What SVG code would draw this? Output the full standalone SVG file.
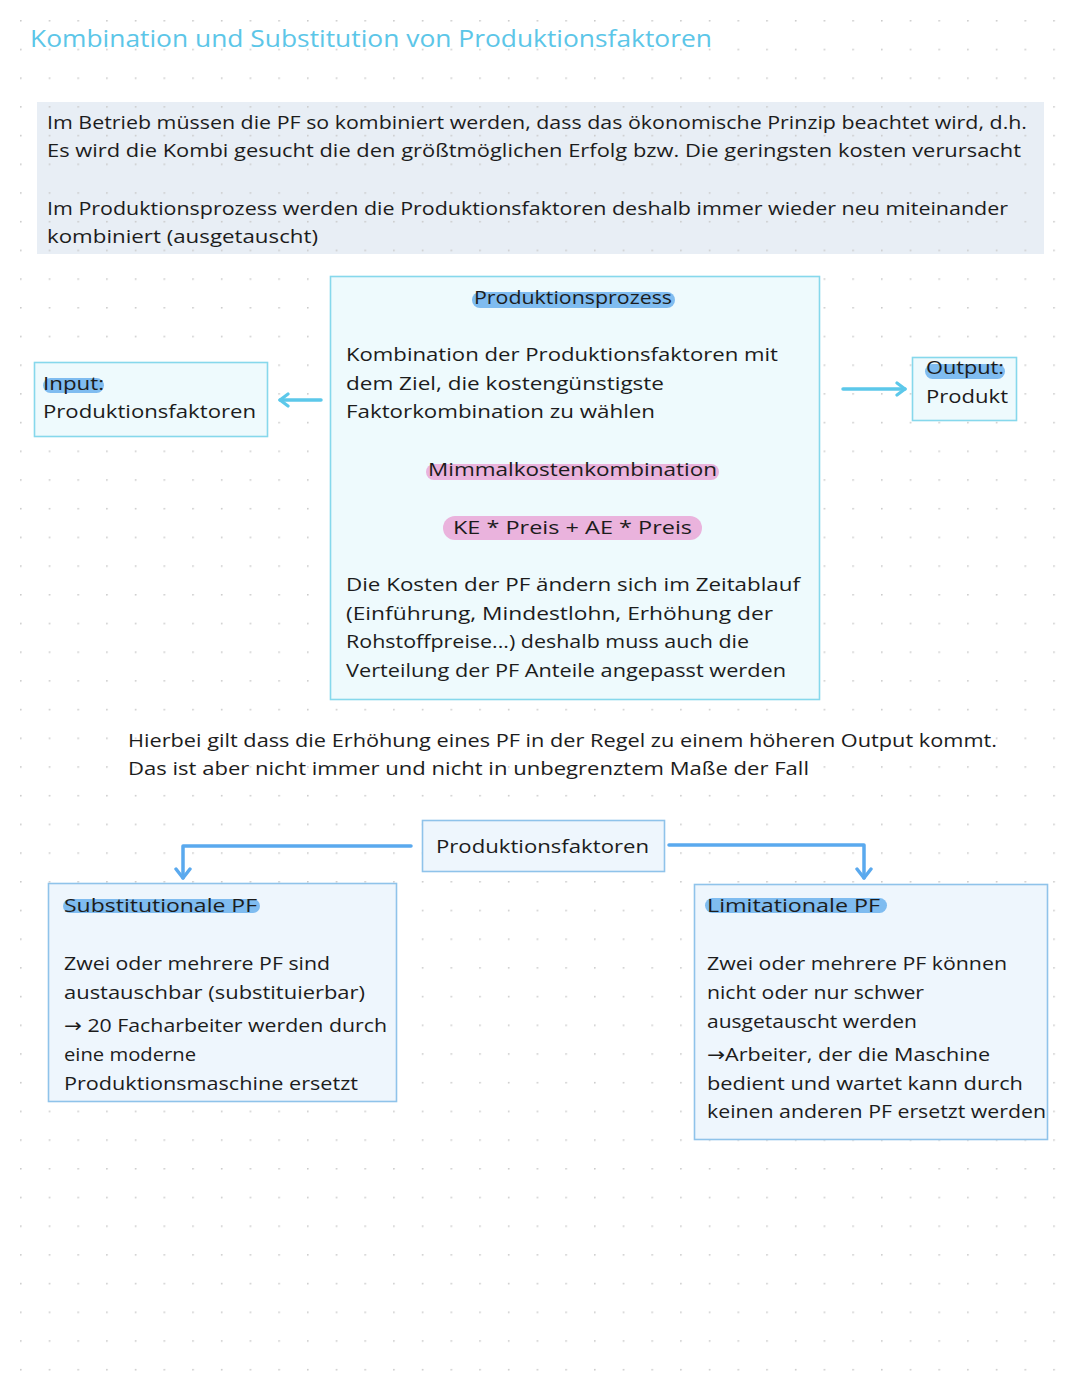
<svg xmlns="http://www.w3.org/2000/svg" width="1080" height="1397" viewBox="0 0 1080 1397">
<defs>
<pattern id="dots" x="20" y="20" width="28.7" height="28.7" patternUnits="userSpaceOnUse">
<circle cx="0.8" cy="0.8" r="0.9" fill="#c9c9c9"/>
</pattern>
<marker id="chevC" viewBox="0 0 16 16" refX="13" refY="8" markerWidth="16" markerHeight="16" markerUnits="userSpaceOnUse" orient="auto">
<path d="M5,2 L13,8 L5,14" fill="none" stroke="#5cc8ea" stroke-width="3.2" stroke-linecap="round" stroke-linejoin="round"/>
</marker>
<marker id="chevB" viewBox="0 0 18 18" refX="14" refY="9" markerWidth="18" markerHeight="18" markerUnits="userSpaceOnUse" orient="auto">
<path d="M5,2 L14,9 L5,16" fill="none" stroke="#5aa9ee" stroke-width="3.4" stroke-linecap="round" stroke-linejoin="round"/>
</marker>
</defs>
<style>
.t{font-family:"Open Sans","Liberation Sans",sans-serif;font-size:19px;fill:#1c1c1c}
.ar{font-family:"DejaVu Sans",sans-serif}
.title{font-family:"Open Sans","Liberation Sans",sans-serif;font-size:23px;fill:#5cc6e8}
.boxC{fill:#eefafd;stroke:#86d8ec;stroke-width:1.6}
.boxB{fill:#eef6fd;stroke:#8fc3ea;stroke-width:1.6}
.hlB{fill:#7fbcf0}
.hlP{fill:#eab3dd}
.conC{fill:none;stroke:#5cc8ea;stroke-width:3.5;stroke-linecap:round}
.conB{fill:none;stroke:#5aa9ee;stroke-width:3.5;stroke-linecap:round;stroke-linejoin:round}
</style>
<rect width="1080" height="1397" fill="#ffffff"/>
<rect x="37" y="102" width="1007" height="152" fill="#e8eef5"/>
<rect width="1080" height="1397" fill="url(#dots)"/>

<text class="title" x="30" y="47" textLength="682" lengthAdjust="spacingAndGlyphs">Kombination und Substitution von Produktionsfaktoren</text>

<g id="intro">
<text class="t" x="47" y="129" textLength="980" lengthAdjust="spacingAndGlyphs">Im Betrieb müssen die PF so kombiniert werden, dass das ökonomische Prinzip beachtet wird, d.h.</text>
<text class="t" x="47" y="157" textLength="974" lengthAdjust="spacingAndGlyphs">Es wird die Kombi gesucht die den größtmöglichen Erfolg bzw. Die geringsten kosten verursacht</text>
<text class="t" x="47" y="215" textLength="961" lengthAdjust="spacingAndGlyphs">Im Produktionsprozess werden die Produktionsfaktoren deshalb immer wieder neu miteinander</text>
<text class="t" x="47" y="243" textLength="271" lengthAdjust="spacingAndGlyphs">kombiniert (ausgetauscht)</text>
</g>

<g id="connectors">
<path class="conC" d="M321,400 L280,400" marker-end="url(#chevC)"/>
<path class="conC" d="M843,389 L905,389" marker-end="url(#chevC)"/>
<path class="conB" d="M411,846 L183,846 L183,878" marker-end="url(#chevB)"/>
<path class="conB" d="M669,845 L864,845 L864,878" marker-end="url(#chevB)"/>
</g>

<g id="prozess">
<rect class="boxC" x="330.5" y="276.5" width="489" height="423"/>
<rect class="hlB" x="472" y="292" width="203" height="16" rx="8"/>
<text class="t" x="474" y="304" textLength="198" lengthAdjust="spacingAndGlyphs">Produktionsprozess</text>
<text class="t" x="346" y="361" textLength="432" lengthAdjust="spacingAndGlyphs">Kombination der Produktionsfaktoren mit</text>
<text class="t" x="346" y="390" textLength="318" lengthAdjust="spacingAndGlyphs">dem Ziel, die kostengünstigste</text>
<text class="t" x="346" y="418" textLength="309" lengthAdjust="spacingAndGlyphs">Faktorkombination zu wählen</text>
<rect class="hlP" x="426" y="464" width="293" height="16" rx="8"/>
<text class="t" x="428" y="476" textLength="289" lengthAdjust="spacingAndGlyphs">Mimmalkostenkombination</text>
<rect class="hlP" x="443" y="516" width="259" height="24" rx="12"/>
<text class="t" x="453" y="534" textLength="239" lengthAdjust="spacingAndGlyphs">KE * Preis + AE * Preis</text>
<text class="t" x="346" y="591" textLength="454" lengthAdjust="spacingAndGlyphs">Die Kosten der PF ändern sich im Zeitablauf</text>
<text class="t" x="346" y="620" textLength="427" lengthAdjust="spacingAndGlyphs">(Einführung, Mindestlohn, Erhöhung der</text>
<text class="t" x="346" y="648" textLength="403" lengthAdjust="spacingAndGlyphs">Rohstoffpreise...) deshalb muss auch die</text>
<text class="t" x="346" y="677" textLength="440" lengthAdjust="spacingAndGlyphs">Verteilung der PF Anteile angepasst werden</text>
</g>

<g id="input">
<rect class="boxC" x="34.5" y="362.5" width="233" height="74"/>
<rect class="hlB" x="43" y="378" width="61" height="15" rx="7.5"/>
<text class="t" x="43" y="390" textLength="61" lengthAdjust="spacingAndGlyphs">Input:</text>
<text class="t" x="43" y="418" textLength="213" lengthAdjust="spacingAndGlyphs">Produktionsfaktoren</text>
</g>

<g id="output">
<rect class="boxC" x="912.5" y="357.5" width="104" height="63"/>
<rect class="hlB" x="925" y="364" width="80" height="15" rx="7.5"/>
<text class="t" x="926" y="374" textLength="78" lengthAdjust="spacingAndGlyphs">Output:</text>
<text class="t" x="926" y="403" textLength="82" lengthAdjust="spacingAndGlyphs">Produkt</text>
</g>

<g id="note">
<text class="t" x="128" y="747" textLength="869" lengthAdjust="spacingAndGlyphs">Hierbei gilt dass die Erhöhung eines PF in der Regel zu einem höheren Output kommt.</text>
<text class="t" x="128" y="775" textLength="681" lengthAdjust="spacingAndGlyphs">Das ist aber nicht immer und nicht in unbegrenztem Maße der Fall</text>
</g>

<g id="faktoren">
<rect class="boxB" x="422.5" y="820.5" width="242" height="51"/>
<text class="t" x="436" y="853" textLength="213" lengthAdjust="spacingAndGlyphs">Produktionsfaktoren</text>
</g>

<g id="substitutional">
<rect class="boxB" x="48.5" y="883.5" width="348" height="218"/>
<rect class="hlB" x="63" y="899" width="197" height="14" rx="7"/>
<text class="t" x="64" y="912" textLength="193" lengthAdjust="spacingAndGlyphs">Substitutionale PF</text>
<text class="t" x="64" y="970" textLength="266" lengthAdjust="spacingAndGlyphs">Zwei oder mehrere PF sind</text>
<text class="t" x="64" y="999" textLength="301" lengthAdjust="spacingAndGlyphs">austauschbar (substituierbar)</text>
<text class="t" x="64" y="1032" textLength="323" lengthAdjust="spacingAndGlyphs"><tspan class="ar">→</tspan> 20 Facharbeiter werden durch</text>
<text class="t" x="64" y="1061" textLength="132" lengthAdjust="spacingAndGlyphs">eine moderne</text>
<text class="t" x="64" y="1090" textLength="294" lengthAdjust="spacingAndGlyphs">Produktionsmaschine ersetzt</text>
</g>

<g id="limitational">
<rect class="boxB" x="694.5" y="884.5" width="353" height="255"/>
<rect class="hlB" x="705" y="898" width="182" height="15" rx="7.5"/>
<text class="t" x="707" y="912" textLength="173" lengthAdjust="spacingAndGlyphs">Limitationale PF</text>
<text class="t" x="707" y="970" textLength="300" lengthAdjust="spacingAndGlyphs">Zwei oder mehrere PF können</text>
<text class="t" x="707" y="999" textLength="217" lengthAdjust="spacingAndGlyphs">nicht oder nur schwer</text>
<text class="t" x="707" y="1028" textLength="210" lengthAdjust="spacingAndGlyphs">ausgetauscht werden</text>
<text class="t" x="707" y="1061" textLength="283" lengthAdjust="spacingAndGlyphs"><tspan class="ar">→</tspan>Arbeiter, der die Maschine</text>
<text class="t" x="707" y="1090" textLength="316" lengthAdjust="spacingAndGlyphs">bedient und wartet kann durch</text>
<text class="t" x="707" y="1118" textLength="339" lengthAdjust="spacingAndGlyphs">keinen anderen PF ersetzt werden</text>
</g>
</svg>
